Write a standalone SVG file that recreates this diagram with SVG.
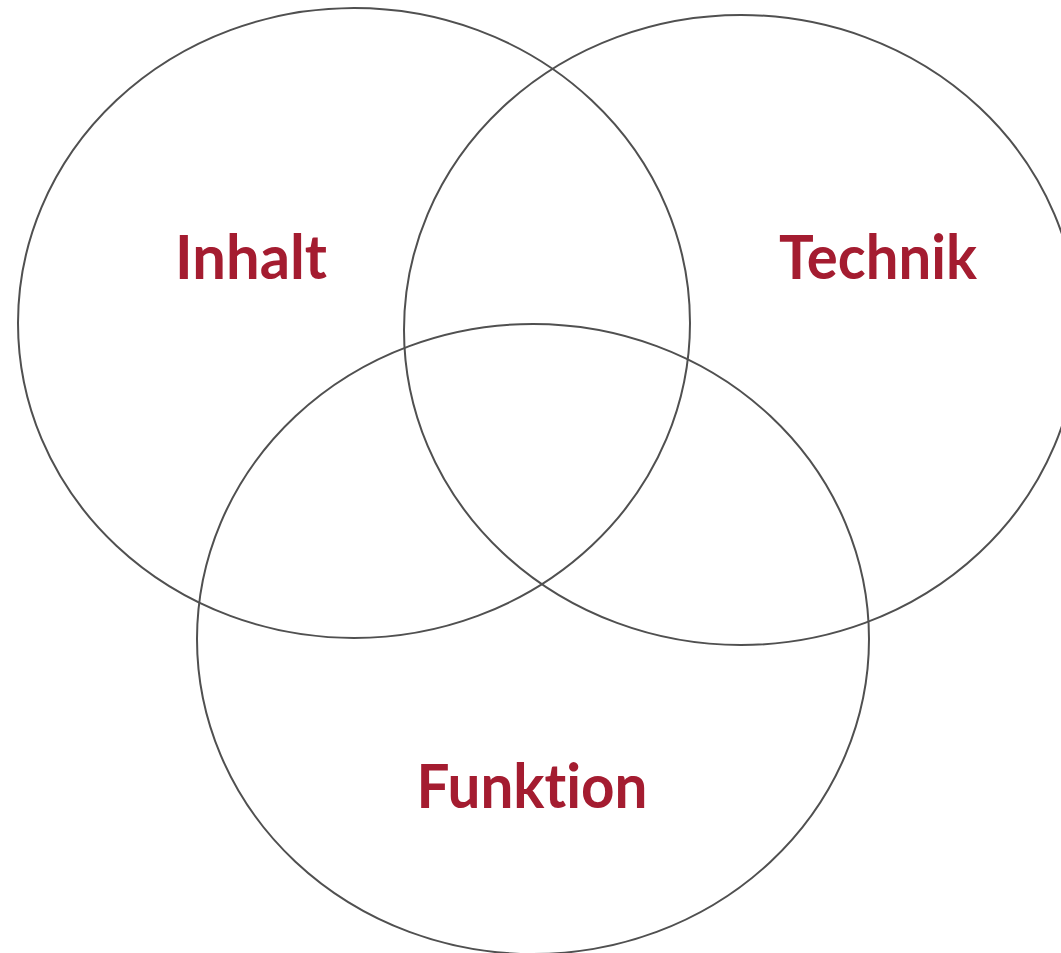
<svg xmlns="http://www.w3.org/2000/svg" width="1061" height="953" viewBox="0 0 1061 953">
<style>
.c{fill:none;stroke:#505050;stroke-width:2}
.t{font-family:Lato,"Open Sans","Liberation Sans",sans-serif;font-weight:bold;font-size:62px;fill:#A41C30;text-anchor:middle;font-variant-ligatures:none;font-feature-settings:"liga" 0,"dlig" 0}
</style>
<rect width="1061" height="953" fill="#fff"/>
<g id="inhalt"><ellipse class="c" cx="354" cy="323" rx="336" ry="315"/><text class="t" x="251" y="279" textLength="152" lengthAdjust="spacingAndGlyphs">Inhalt</text></g>
<g id="technik"><ellipse class="c" cx="741" cy="330" rx="337" ry="315"/><text class="t" x="878" y="279" textLength="198" lengthAdjust="spacingAndGlyphs">Technik</text></g>
<g id="funktion"><ellipse class="c" cx="533" cy="639" rx="336" ry="315"/><text class="t" x="532" y="808" textLength="231" lengthAdjust="spacingAndGlyphs">Funktion</text></g>
</svg>
